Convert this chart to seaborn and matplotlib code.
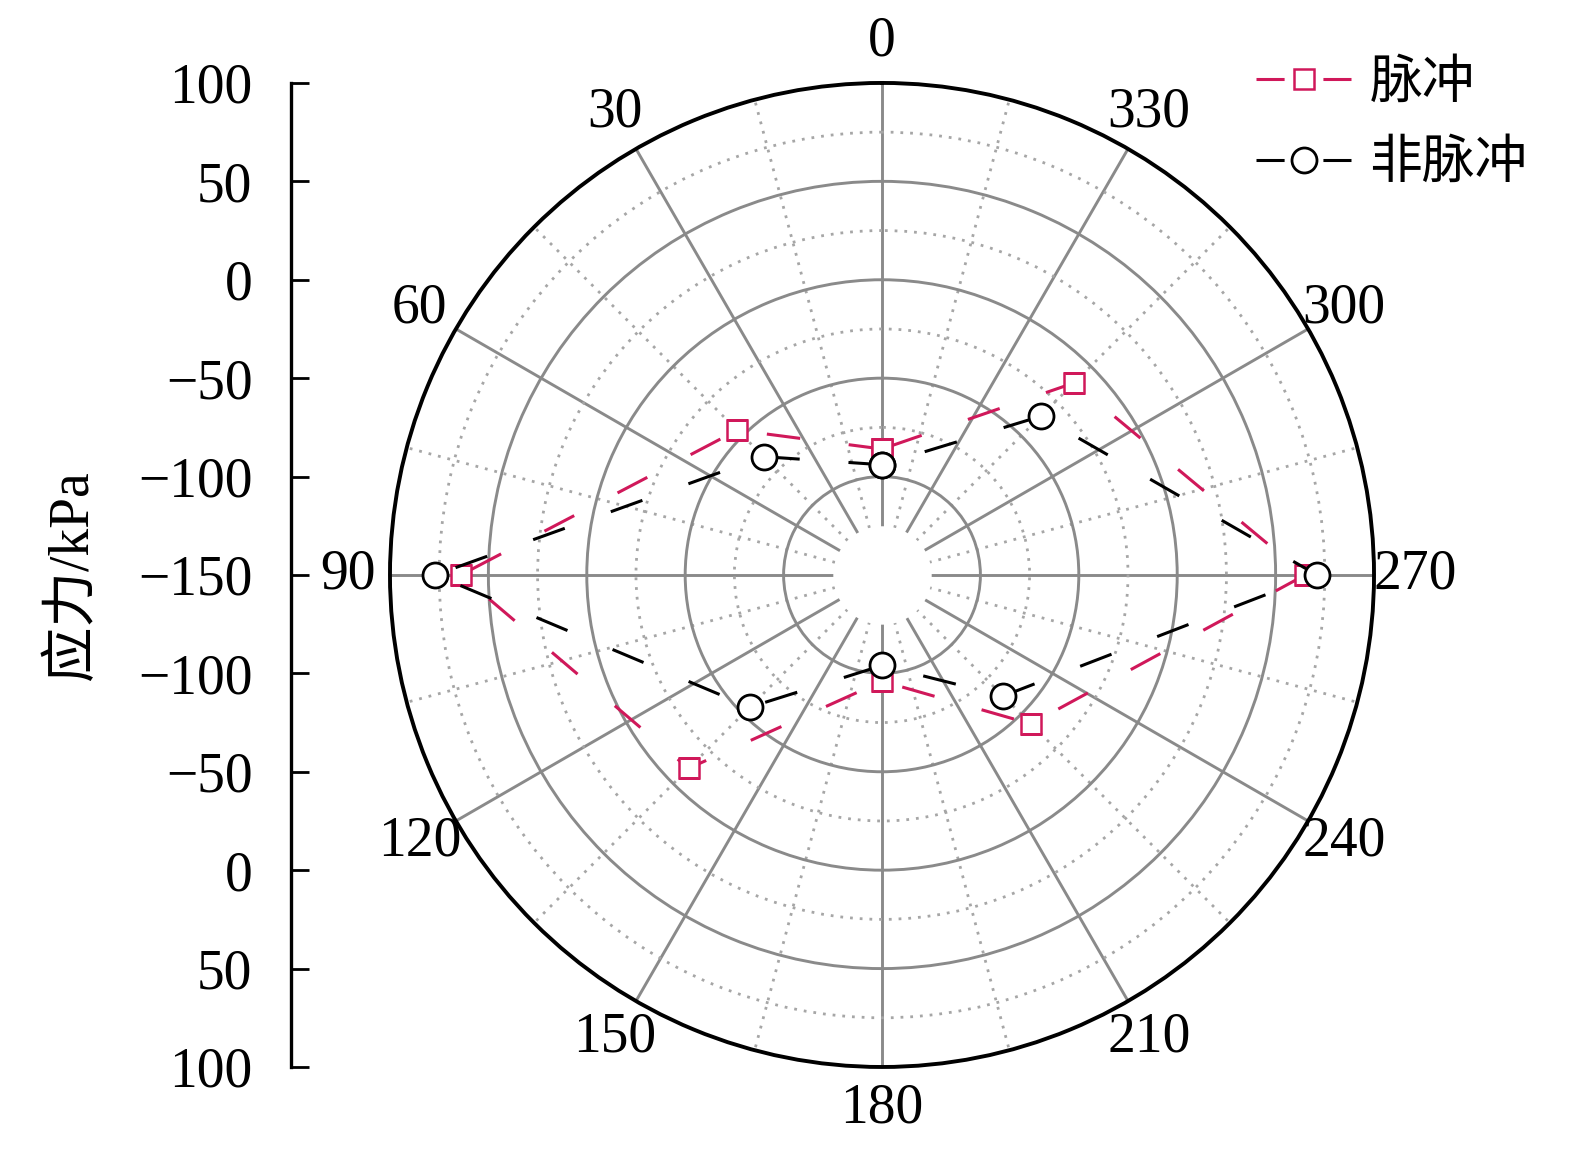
import numpy as np
import matplotlib
matplotlib.use("Agg")
import matplotlib.pyplot as plt
from matplotlib.lines import Line2D
from matplotlib.ticker import FixedLocator
import seaborn as sns

# data (kPa, angle in degrees)
angles = [0, 45, 90, 135, 180, 225, 270, 315]
pulse = [-86, -46, 64, -11, -96, -43, 65, -12]
non_pulse = [-94, -65, 77, -55, -104, -63, 71, -36]
series_names = ["脉冲", "非脉冲"]
theta_ticks = list(range(0, 360, 30))
r_ticks = [-250, -200, -150, -100, -50, 0, 50, 100, 150, 200, 250]

red = "#d0185a"
grid_grey = "#8a8a8a"
fs = 40

sns.set_theme(style="white")
plt.rcParams["font.family"] = ["Liberation Serif", "Noto Sans CJK SC"]
plt.rcParams["text.color"] = "black"
plt.rcParams["xtick.color"] = "black"
plt.rcParams["ytick.color"] = "black"

fig = plt.figure(figsize=(15.75, 11.52), dpi=100)
ax = fig.add_axes([0.2476, 0.0738, 0.6248, 0.8542], projection="polar")
ax.set_theta_zero_location("N")
ax.set_theta_direction(1)
ax.set_rlim(-150, 100)

# grid
ax.set_rticks([-100, -50, 0, 50])
ax.set_yticklabels([])
ax.yaxis.set_minor_locator(FixedLocator([-75, -25, 25, 75]))
ax.set_xticks(np.deg2rad(theta_ticks))
ax.set_xticklabels([str(t) for t in theta_ticks], fontsize=fs)
ax.xaxis.set_minor_locator(FixedLocator(np.deg2rad(np.arange(15, 360, 30))))
ax.grid(which="major", color=grid_grey, linewidth=2.1, linestyle="-")
ax.grid(which="minor", color="#a6a6a6", linewidth=2.0, linestyle=(0, (1, 2.5)))
ax.tick_params(axis="x", which="major", direction="in", length=10, width=2.2,
               color="black", pad=23)
ax.tick_params(axis="x", which="minor", direction="in", length=10, width=2.2,
               color="black")
ax.tick_params(axis="y", which="both", length=0)
ax.spines["polar"].set_color("black")
ax.spines["polar"].set_linewidth(2.8)

# white hole in the middle
ring = np.linspace(0, 2 * np.pi, 361)
ax.fill_between(ring, -150, -125, color="white", zorder=2, linewidth=0)

# closed curves
th = np.deg2rad(angles + [360])
sns.lineplot(x=th, y=pulse + pulse[:1], ax=ax, sort=False, estimator=None,
             color=red, linewidth=2.2, linestyle=(0, (11, 16)),
             marker="s", markersize=15, markerfacecolor="white",
             markeredgecolor=red, markeredgewidth=1.8, zorder=4)
sns.lineplot(x=th, y=non_pulse + non_pulse[:1], ax=ax, sort=False, estimator=None,
             color="black", linewidth=2.2, linestyle=(0, (11, 16)),
             marker="o", markersize=18, markerfacecolor="white",
             markeredgecolor="black", markeredgewidth=2.0, zorder=5)
ax.set_xlabel("")
ax.set_ylabel("")

# straight radial scale on the left
ax2 = fig.add_axes([0.185, 0.0738, 0.01, 0.8542])
ax2.set_ylim(-250, 250)
ax2.set_xlim(0, 1)
ax2.set_yticks(r_ticks)
ax2.set_yticklabels([str(abs(v) - 150).replace("-", "−") for v in r_ticks[::-1]],
                    fontsize=fs)
ax2.set_xticks([])
ax2.tick_params(axis="y", direction="in", length=13, width=2.0, color="black",
                pad=28, left=True)
for side in ["top", "right", "bottom"]:
    ax2.spines[side].set_visible(False)
ax2.spines["left"].set_color("black")
ax2.spines["left"].set_linewidth(2.4)
ax2.patch.set_alpha(0)

fig.text(0.046, 0.501, "应力/kPa", rotation=90, ha="center", va="center",
         fontsize=fs)

handles = [
    Line2D([], [], color=red, linewidth=2.2, linestyle=(0, (9.2, 12.7)), marker="s",
           markersize=15, markerfacecolor="white", markeredgecolor=red,
           markeredgewidth=1.8),
    Line2D([], [], color="black", linewidth=2.2, linestyle=(0, (9.2, 12.7)),
           marker="o", markersize=18, markerfacecolor="white",
           markeredgecolor="black", markeredgewidth=2.0),
]
fig.legend(handles, series_names, loc="upper left",
           bbox_to_anchor=(1256 / 1575, 1 - 60 / 1152), frameon=False,
           fontsize=38, handlelength=1.8, handletextpad=0.35, labelspacing=0.6,
           borderaxespad=0, borderpad=0)

fig.savefig("out.png", dpi=100)
